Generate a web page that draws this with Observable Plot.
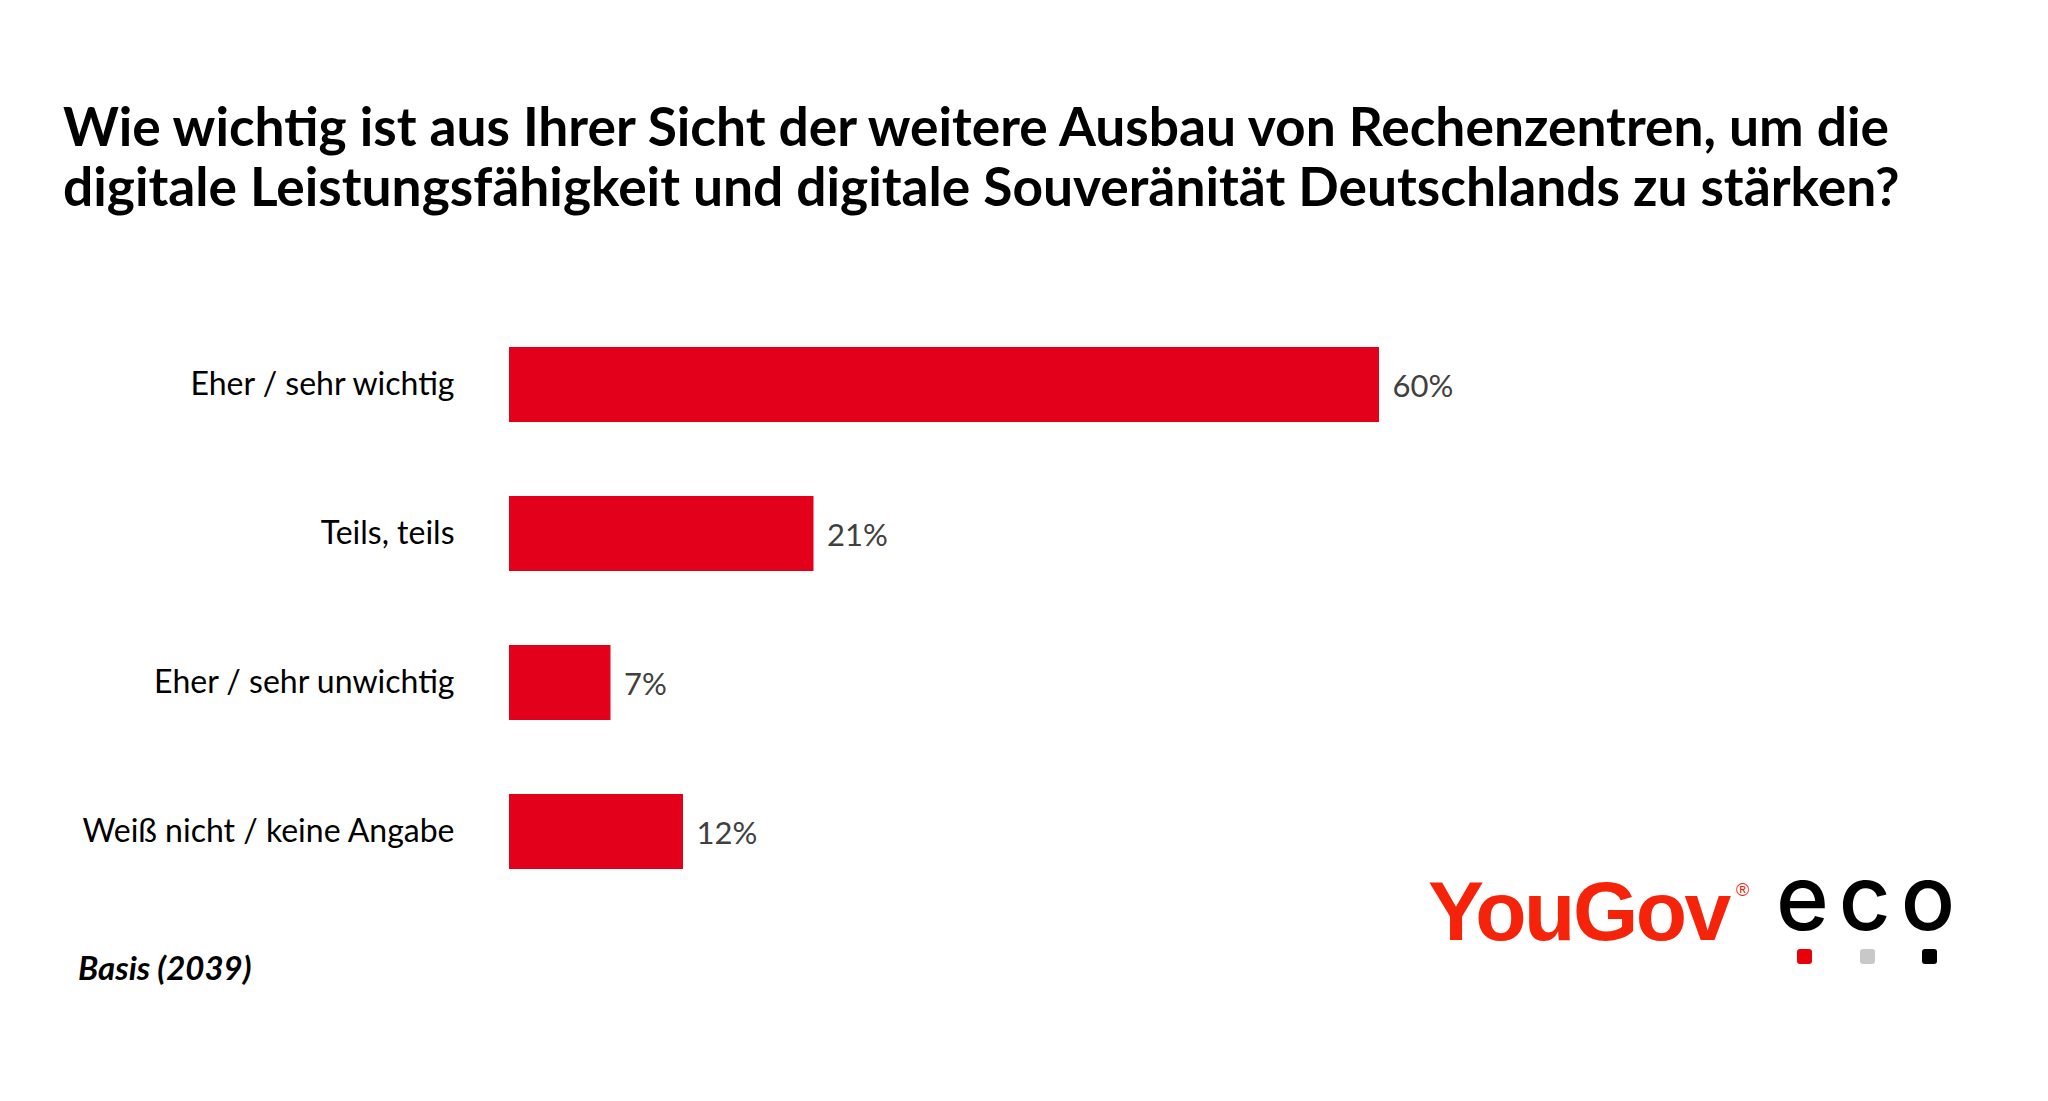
<!DOCTYPE html>
<html>
<head>
<meta charset="utf-8">
<script src="https://cdn.jsdelivr.net/npm/d3@7"></script>
<script src="https://cdn.jsdelivr.net/npm/@observablehq/plot@0.6"></script>
<style>
  html, body { margin: 0; padding: 0; background: #fff; }
  body { width: 2048px; height: 1101px; position: relative; overflow: hidden; font-family: Lato, "Open Sans", sans-serif; }
  #title { height: 240px; box-sizing: border-box; padding: 95px 0 0 63px; font-weight: 700; font-size: 53.3px; line-height: 60px; color: #000; }
  #title div { white-space: nowrap; }
  #chart svg { display: block; }
  #basis { padding: 4px 0 0 78px; font-weight: 700; font-style: italic; font-size: 33px; line-height: 40px; color: #000; }
  #yougov { position: absolute; left: 1428px; top: 866px; font-family: "Liberation Sans", Arial, sans-serif; font-weight: 700; font-size: 84px; letter-spacing: -2.5px; color: #f5230a; line-height: 90px; }
  #reg { position: absolute; left: 1736px; top: 880px; font-family: "Liberation Sans", Arial, sans-serif; font-size: 18px; line-height: 20px; color: #f5230a; }
  #eco { position: absolute; left: 1776px; top: 848px; font-family: Inter, sans-serif; font-weight: 500; font-size: 90px; letter-spacing: 10px; color: #000; line-height: 100px; }
  .sq { position: absolute; top: 949px; width: 15px; height: 15px; border-radius: 3px; }
</style>
</head>
<body>
<div id="title"></div>
<div id="chart"></div>
<div id="basis"></div>
<div id="yougov">YouGov</div>
<div id="reg">®</div>
<div id="eco">eco</div>
<div class="sq" style="left:1797px;background:#e8000b"></div>
<div class="sq" style="left:1860px;background:#c8c8c8"></div>
<div class="sq" style="left:1922px;background:#000"></div>
<script>
const titleLines = [
  "Wie wichtig ist aus Ihrer Sicht der weitere Ausbau von Rechenzentren, um die",
  "digitale Leistungsfähigkeit und digitale Souveränität Deutschlands zu stärken?"
];
const categories = ["Eher / sehr wichtig", "Teils, teils", "Eher / sehr unwichtig", "Weiß nicht / keine Angabe"];
const values = [60, 21, 7, 12];
const basisNote = "Basis (2039)";

const data = categories.map((c, i) => ({category: c, value: values[i]}));

const t = document.getElementById("title");
titleLines.forEach(l => { const d = document.createElement("div"); d.textContent = l; t.appendChild(d); });
document.getElementById("basis").textContent = basisNote;

const chart = Plot.plot({
  width: 2048,
  height: 703,
  marginTop: 32.5,
  marginBottom: 0,
  marginLeft: 509,
  marginRight: 669,
  x: {domain: [0, 60], axis: null},
  y: {domain: categories, padding: 0.5, axis: null},
  style: {fontFamily: "Lato, 'Open Sans', sans-serif", fontSize: "32px", color: "#000", background: "#fff"},
  marks: [
    Plot.barX(data, {x: "value", y: "category", fill: "#e2001a"}),
    Plot.text(data, {x: "value", y: "category", text: d => d.value + "%", textAnchor: "start", dx: 13, dy: 2, fill: "#404040", fontSize: 31}),
    Plot.axisY({tickSize: 0, tickPadding: 55, fontSize: 32, label: null, fill: "#000"})
  ]
});
document.getElementById("chart").appendChild(chart);
</script>
</body>
</html>
